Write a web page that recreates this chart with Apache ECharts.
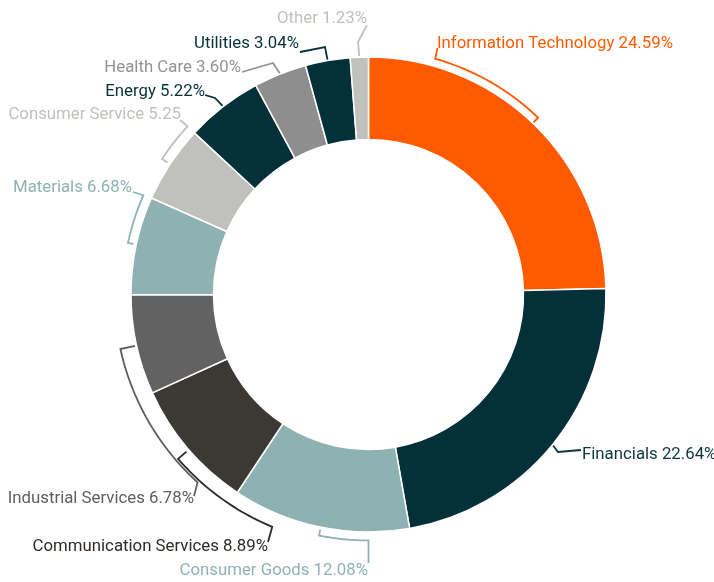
<!DOCTYPE html>
<html>
<head>
<meta charset="utf-8">
<script src="https://cdn.jsdelivr.net/npm/echarts@6/dist/echarts.min.js"></script>
<style>
  html, body { margin: 0; padding: 0; background: #ffffff; }
  #chart { width: 714px; height: 582px; }
</style>
</head>
<body>
<div id="chart"></div>
<script>
// Sector weights of the portfolio, clockwise from 12 o'clock
const sectors = [
  'Information Technology', 'Financials', 'Consumer Goods', 'Communication Services',
  'Industrial Services', 'Materials', 'Consumer Service', 'Energy',
  'Health Care', 'Utilities', 'Other'
];
const weights = [24.59, 22.64, 12.08, 8.89, 6.78, 6.68, 5.25, 5.22, 3.60, 3.04, 1.23];
const labelSuffix = ['%', '%', '%', '%', '%', '%', '', '%', '%', '%', '%'];

const sliceColors = [
  '#ff5a00', '#04303a', '#8eb1b2', '#3c3834', '#626262', '#8eb1b2',
  '#c0c0bc', '#04303a', '#8e8e8e', '#04303a', '#c0c0bc'
];
const textColors = [
  '#ff5a00', '#0b3640', '#8fb2b3', '#2e2a27', '#5e5e5e', '#8fb2b3',
  '#c0c0bd', '#06313b', '#939393', '#06313b', '#c0c0bd'
];

// Ring geometry
const CX = 368.5, CY = 294.5, R_IN = 155, R_OUT = 237.5;

// Label anchors and connector styling (bracket = arc callout, line = elbow leader)
const labelLayoutSpec = [
  { x: 437, y: 43.5,  align: 'left',  kind: 'bracket', a0: 43.8,  a1: 15.8,  r: 245,   tick: 6.5, lead: [[437.5, 48]] },
  { x: 582, y: 454.5, align: 'left',  kind: 'line', lead: [[558, 452], [581, 450]] },
  { x: 368, y: 570.5, align: 'right', kind: 'bracket', a0: 191.6, a1: 180,   r: 246,   tick: 6,   lead: [[368.5, 563]] },
  { x: 268, y: 546.5, align: 'right', kind: 'bracket', a0: 229.2, a1: 202.5, r: 251.5, tick: 11,  lead: [[268, 542]] },
  { x: 194, y: 498.5, align: 'right', kind: 'bracket', a0: 257.6, a1: 222.3, r: 254,   tick: 15,  lead: [[194, 496]] },
  { x: 132, y: 187.5, align: 'right', kind: 'bracket', a0: 282.1, a1: 293.8, r: 246,   tick: 5.5, lead: [[133, 192]] },
  { x: 181, y: 114.5, align: 'right', kind: 'bracket', a0: 303.3, a1: 312.9, r: 247,   tick: 6.5, lead: [[180, 120]] },
  { x: 205, y: 91.5,  align: 'right', kind: 'line', lead: [[215, 98], [205, 95]] },
  { x: 241, y: 67.5,  align: 'right', kind: 'line', lead: [[273, 63], [242, 72]] },
  { x: 299, y: 43.5,  align: 'right', kind: 'line', lead: [[325, 47], [300, 52]] },
  { x: 367, y: 18.5,  align: 'right', kind: 'line', lead: [[358, 42], [367, 25]] }
];

function polar(deg, r) {
  const a = deg * Math.PI / 180;
  return [CX + r * Math.sin(a), CY - r * Math.cos(a)];
}

// Mid angle of every slice, measured clockwise from the top
const total = weights.reduce((s, v) => s + v, 0);
const midAngles = [];
let acc = 0;
weights.forEach(v => {
  const span = v / total * 360;
  midAngles.push(acc + span / 2);
  acc += span;
});

// Connector polylines
const connectors = labelLayoutSpec.map((spec, i) => {
  let pts = [];
  if (spec.kind === 'bracket') {
    pts.push(polar(spec.a0, spec.r - spec.tick));
    const steps = Math.max(2, Math.ceil(Math.abs(spec.a1 - spec.a0)));
    for (let k = 0; k <= steps; k++) {
      pts.push(polar(spec.a0 + (spec.a1 - spec.a0) * k / steps, spec.r));
    }
  } else {
    pts.push(polar(midAngles[i], 238.5));
  }
  pts = pts.concat(spec.lead);
  return {
    type: 'polyline',
    silent: true,
    z: 10,
    shape: { points: pts },
    style: { stroke: textColors[i], lineWidth: 1.8, fill: null, lineJoin: 'miter' }
  };
});

const chart = echarts.init(document.getElementById('chart'), null, { renderer: 'canvas' });

chart.setOption({
  animation: false,
  backgroundColor: '#ffffff',
  graphic: { elements: connectors },
  series: [{
    type: 'pie',
    center: [CX, CY],
    radius: [R_IN, R_OUT],
    startAngle: 90,
    clockwise: true,
    avoidLabelOverlap: false,
    itemStyle: { borderColor: '#ffffff', borderWidth: 1.5 },
    emphasis: { disabled: true },
    labelLine: { show: false },
    label: {
      show: true,
      position: 'outside',
      fontFamily: 'Roboto',
      fontSize: 16.8,
      formatter: p => p.name + ' ' + p.value.toFixed(2) + labelSuffix[p.dataIndex]
    },
    labelLayout: params => {
      const s = labelLayoutSpec[params.dataIndex];
      return { x: s.x, y: s.y, align: s.align, verticalAlign: 'middle' };
    },
    data: sectors.map((name, i) => ({
      name: name,
      value: weights[i],
      itemStyle: { color: sliceColors[i] },
      label: { color: textColors[i] }
    }))
  }]
});
</script>
</body>
</html>
